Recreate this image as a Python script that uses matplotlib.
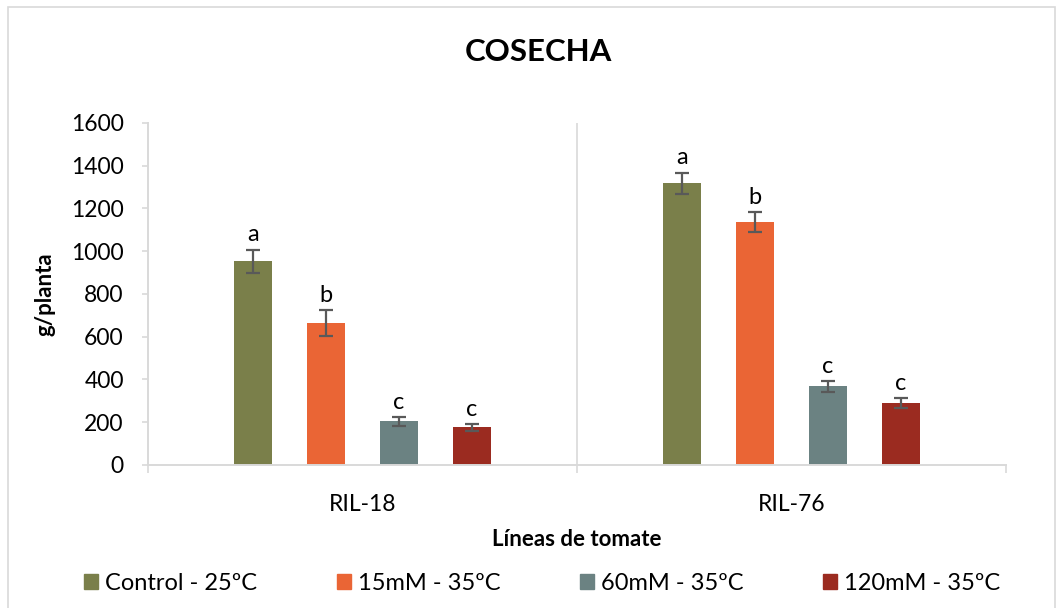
import numpy as np
import matplotlib.pyplot as plt
from matplotlib.patches import Patch, Rectangle

plt.rcParams['font.family'] = ['Lato', 'DejaVu Sans']

# cosecha por planta (g), media y error
lineas = ['RIL-18', 'RIL-76']
tratamientos = ['Control - 25ºC', '15mM - 35ºC', '60mM - 35ºC', '120mM - 35ºC']
medias = [
    [953, 1318],   # Control - 25ºC
    [663, 1137],   # 15mM - 35ºC
    [204, 368],    # 60mM - 35ºC
    [176, 289],    # 120mM - 35ºC
]
errores = [
    [55, 50],
    [60, 45],
    [22, 25],
    [15, 24],
]
letras = [
    ['a', 'a'],
    ['b', 'b'],
    ['c', 'c'],
    ['c', 'c'],
]
colores = ['#7A7F4A', '#EA6535', '#6B8282', '#9B2B20']

gris = '#D9D9D9'

fig = plt.figure(figsize=(10.59, 6.08), dpi=100)
ax = fig.add_axes([0.1398, 0.2352, 0.8102, 0.5625])

x = np.arange(len(lineas))
ancho = 0.089
desp = [-0.255, -0.085, 0.085, 0.255]

for i, trat in enumerate(tratamientos):
    pos = x + desp[i]
    ax.bar(pos, medias[i], width=ancho, color=colores[i], label=trat, zorder=2)
    ax.errorbar(pos, medias[i], yerr=errores[i], fmt='none', ecolor='#595959',
                elinewidth=1.6, capsize=5, capthick=1.6, zorder=3)
    for xp, m, e, l in zip(pos, medias[i], errores[i], letras[i]):
        ax.annotate(l, (xp, m + e), xytext=(0, 3), textcoords='offset points',
                    ha='center', va='bottom', fontsize=17)

ax.set_xlim(-0.5, 1.5)
ax.set_ylim(0, 1600)
ax.set_yticks(range(0, 1601, 200))
ax.set_xticks(x)
ax.set_xticklabels(lineas)
ax.set_xticks([-0.5, 0.5, 1.5], minor=True)
ax.tick_params(axis='x', which='major', length=0, pad=21, labelsize=16.5)
ax.tick_params(axis='x', which='minor', length=6, width=1.2, color=gris)
ax.tick_params(axis='y', length=4.5, width=1.2, color=gris, labelsize=16.5, pad=13)
ax.axvline(0.5, color=gris, lw=1.2, zorder=0)

for s in ['top', 'right']:
    ax.spines[s].set_visible(False)
for s in ['left', 'bottom']:
    ax.spines[s].set_color(gris)
    ax.spines[s].set_linewidth(1.4)

ax.set_ylabel('g/planta', fontsize=16, fontweight='bold', labelpad=11)
ax.set_xlabel('Líneas de tomate', fontsize=16, fontweight='bold', labelpad=10)
fig.text(0.508, 0.915, 'COSECHA', ha='center', va='center', fontsize=22.5, fontweight='bold')

handles = [Patch(color=c) for c in colores]
fig.legend(handles, tratamientos, loc='center', bbox_to_anchor=(0.512, 0.04), ncol=4,
           frameon=False, fontsize=17, handlelength=0.6, handleheight=0.6,
           handletextpad=0.3, columnspacing=3.35)

# marco del gráfico
fig.add_artist(Rectangle((8 / 1059, -0.05), 1047 / 1059, 1.05 - 7 / 608,
                         transform=fig.transFigure, fill=False, edgecolor=gris, lw=1.2))

fig.savefig('out.png', dpi=100, facecolor='white')
